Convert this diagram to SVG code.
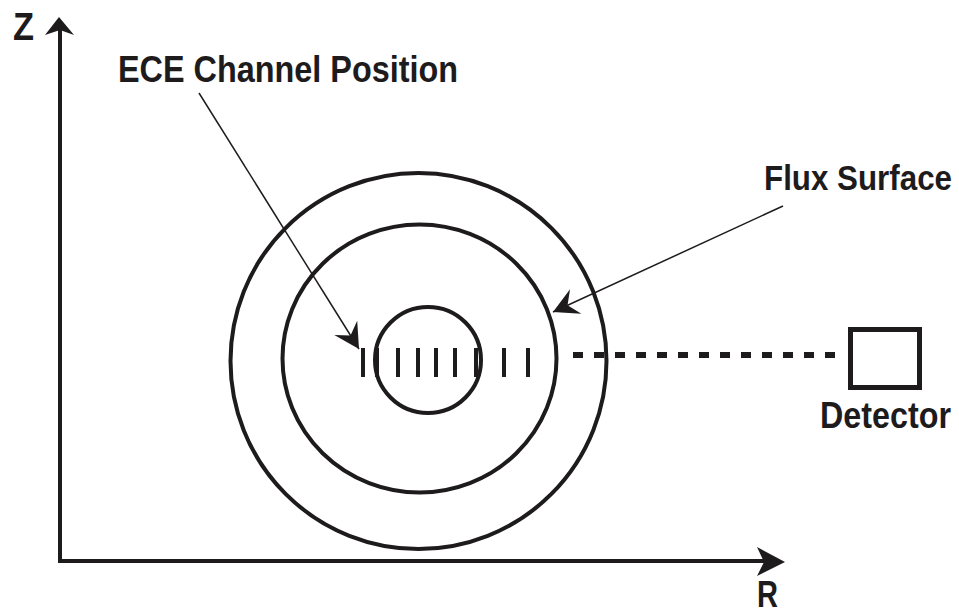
<svg xmlns="http://www.w3.org/2000/svg" width="959" height="613" viewBox="0 0 959 613">
<style>
.t{font-family:"Liberation Sans",Arial,sans-serif;font-weight:bold;fill:#1e1b1c}
.c{fill:none;stroke:#1e1b1c;stroke-width:4}
.tk{stroke:#1e1b1c;stroke-width:4}
.ld{stroke:#1e1b1c;stroke-width:1.5;fill:none}
</style>
<defs>
<marker id="ah" markerUnits="userSpaceOnUse" markerWidth="30" markerHeight="30" viewBox="-26 -15 28 30" refX="0" refY="0" orient="auto">
<path d="M0,0 L-25,-13.5 L-16,0 L-25,13.5 Z" fill="#1e1b1c"/>
</marker>
</defs>
<g id="axes">
<line x1="60" y1="561" x2="60" y2="28" stroke="#1e1b1c" stroke-width="4"/>
<line x1="58" y1="561" x2="766" y2="561" stroke="#1e1b1c" stroke-width="4"/>
<path d="M59,17 L74,35 L60,30 L45,35 Z" fill="#1e1b1c"/>
<path d="M785,562 L757,547 L764,562 L757,576 Z" fill="#1e1b1c"/>
<text class="t" x="13" y="40" font-size="38" textLength="21" lengthAdjust="spacingAndGlyphs">Z</text>
<text class="t" x="757" y="607" font-size="36" textLength="21" lengthAdjust="spacingAndGlyphs">R</text>
</g>
<g id="flux-surfaces">
<ellipse class="c" cx="418.5" cy="361" rx="188" ry="188"/>
<ellipse class="c" cx="419.5" cy="358.5" rx="137" ry="134"/>
<ellipse class="c" cx="428" cy="360" rx="53" ry="53" stroke-width="3.5"/>
</g>
<g id="channels">
<line class="tk" x1="363" y1="348" x2="363" y2="377"/>
<line class="tk" x1="377" y1="348" x2="377" y2="377"/>
<line class="tk" x1="398" y1="348" x2="398" y2="377"/>
<line class="tk" x1="418" y1="348" x2="418" y2="377"/>
<line class="tk" x1="436" y1="348" x2="436" y2="377"/>
<line class="tk" x1="455" y1="348" x2="455" y2="377"/>
<line class="tk" x1="476" y1="348" x2="476" y2="377"/>
<line class="tk" x1="504" y1="348" x2="504" y2="377"/>
<line class="tk" x1="528" y1="348" x2="528" y2="377"/>
</g>
<g id="detector">
<rect x="850.5" y="329.5" width="69" height="58" fill="none" stroke="#1e1b1c" stroke-width="5"/>
<text class="t" x="820" y="428" font-size="36" textLength="131" lengthAdjust="spacingAndGlyphs">Detector</text>
</g>
<g id="labels">
<text class="t" x="118" y="82" font-size="37" textLength="340" lengthAdjust="spacingAndGlyphs">ECE Channel Position</text>
<text class="t" x="764" y="190" font-size="35" textLength="188" lengthAdjust="spacingAndGlyphs">Flux Surface</text>
</g>
<g id="connectors">
<line x1="573" y1="355" x2="838" y2="355" stroke="#1e1b1c" stroke-width="6" stroke-dasharray="10 11"/>
<line class="ld" x1="199" y1="93" x2="359" y2="349" marker-end="url(#ah)"/>
<line class="ld" x1="783" y1="206" x2="553" y2="312" marker-end="url(#ah)"/>
</g>
</svg>
